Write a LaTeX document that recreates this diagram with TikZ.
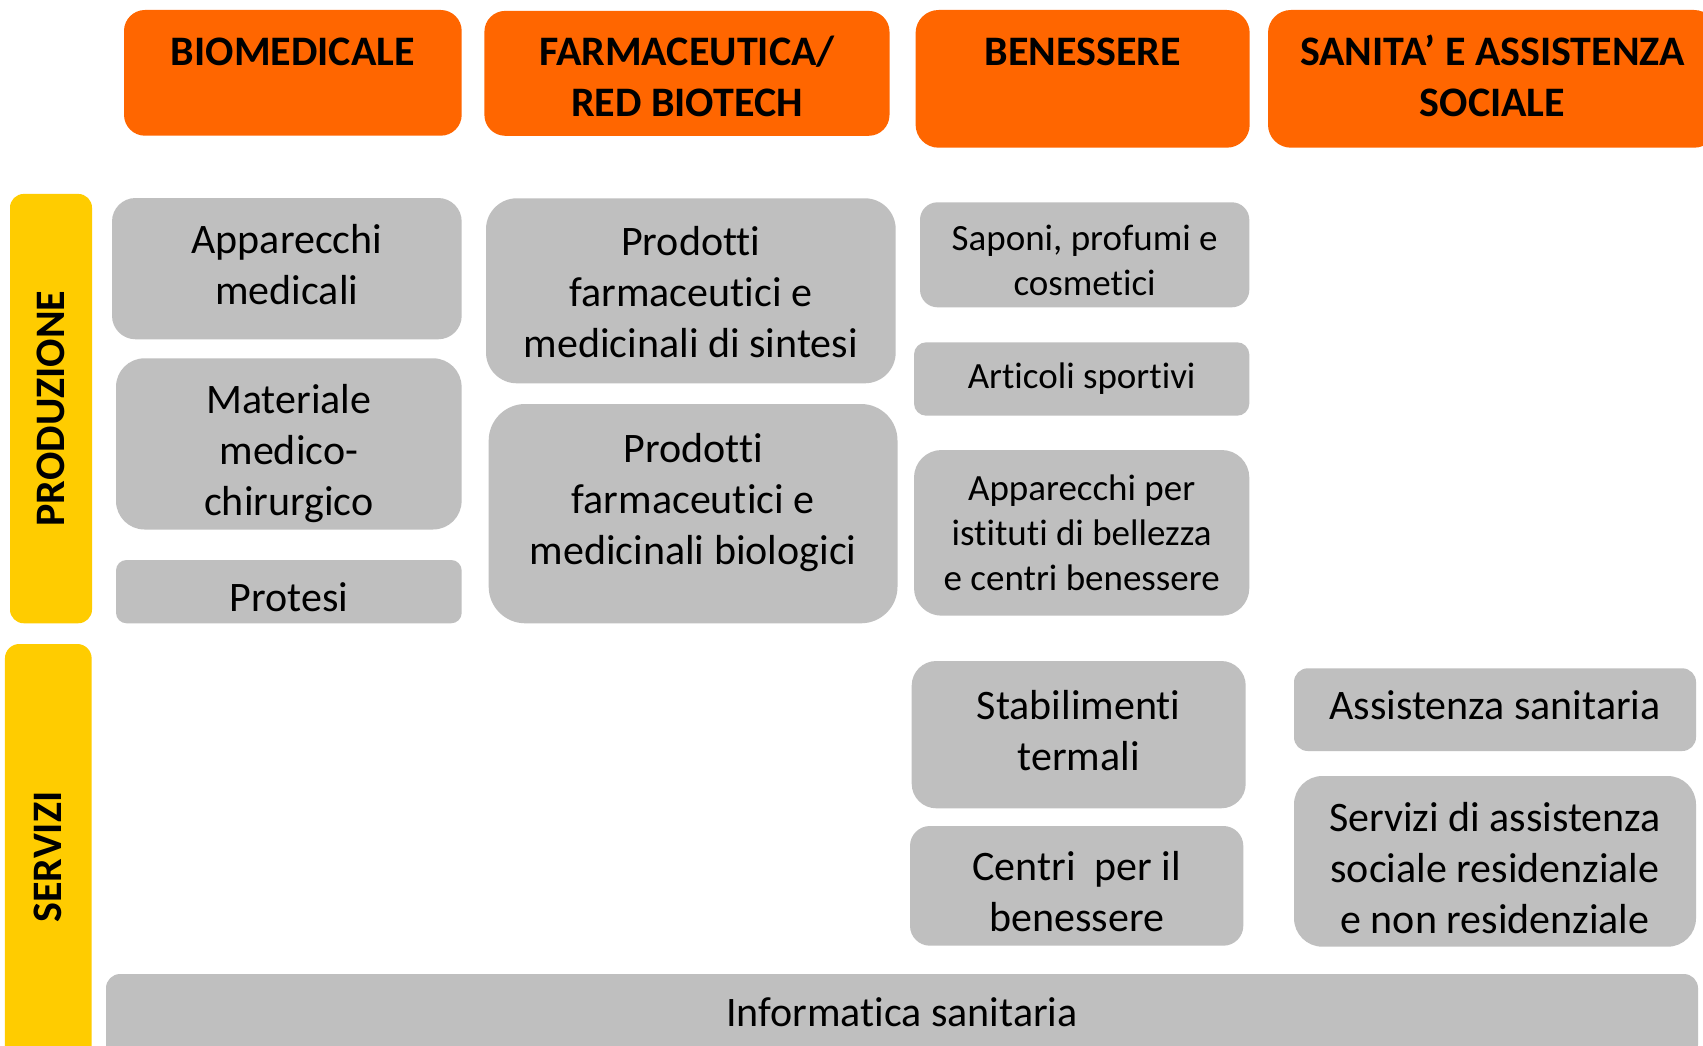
\documentclass[tikz,border=0pt]{standalone}
\usepackage{fontspec}
\setmainfont{Carlito}[Ligatures={NoCommon}]
\definecolor{hdrorange}{HTML}{FF6600}
\definecolor{baryellow}{HTML}{FFCC00}
\definecolor{boxgrey}{HTML}{BFBFBF}
\newcommand\bigtxt{\fontsize{42}{51}\selectfont}
\newcommand\smalltxt{\fontsize{37}{45}\selectfont}
% #1 raise, #2 name, #3 style, #4 x1, #5 y1, #6 x2, #7 y2, #8 text
\newcommand\rbox[8][0]{%
  \pgfmathsetmacro\bxcx{(#4+#6)/2}%
  \pgfmathsetmacro\bxcy{(#5+#7)/2}%
  \pgfmathsetmacro\bxw{#6-#4}%
  \pgfmathsetmacro\bxh{#7-#5}%
  \pgfmathsetmacro\bxr{min(\bxw,\bxh)/6}%
  \node[#3, minimum width=\bxw pt, minimum height=\bxh pt, rounded corners=\bxr pt] (#2) at (\bxcx,\bxcy) {\raisebox{#1pt}[\height][\depth]{\begin{tabular}{@{}c@{}}#8\end{tabular}}};%
}
\tikzset{
  hdrbox/.style={fill=hdrorange, draw=none, inner sep=0pt, font=\bigtxt\bfseries, text=black},
  greybox/.style={fill=boxgrey, draw=none, inner sep=0pt, font=\bigtxt, text=black},
  greysmall/.style={fill=boxgrey, draw=none, inner sep=0pt, font=\smalltxt, text=black},
  sidebar/.style={fill=baryellow, draw=none, inner sep=0pt, rotate=90, font=\bigtxt\bfseries, text=black}
}
\begin{document}
\begin{tikzpicture}[x=1pt,y=-1pt]
\useasboundingbox (0,0) rectangle (1703,1046);
\clip (0,0) rectangle (1703,1046);
\fill[white] (0,0) rectangle (1703,1046);

% column headers
\rbox[18]{biomed}{hdrbox}{124}{10}{461.7}{135.7}{BIOMEDICALE}
\rbox[-7]{farma}{hdrbox}{484.4}{10.9}{889.5}{135.8}{FARMACEUTICA/\\RED BIOTECH}
\rbox[24]{benes}{hdrbox}{915.6}{10}{1249.7}{147.7}{BENESSERE}
\rbox[-2]{sanita}{hdrbox}{1268}{10}{1717}{147.7}{SANITA’ E ASSISTENZA\\SOCIALE}

% row bars
\node[sidebar, minimum width=429.3pt, minimum height=82pt, rounded corners=13.7pt] (prod) at (51,408.6) {PRODUZIONE};
\node[sidebar, minimum width=426pt, minimum height=86.7pt, rounded corners=14.4pt] (serv) at (48.3,857) {SERVIZI};

% biomedicale
\rbox[0]{appmed}{greybox}{112}{198}{461.7}{339.3}{Apparecchi\\medicali}
\rbox[-10]{matmed}{greybox}{116}{358.3}{461.6}{529.5}{Materiale\\medico-\\chirurgico}
\rbox[-10]{protesi}{greybox}{116}{560}{461.7}{623.3}{Protesi}

% farmaceutica
\rbox[-5]{sintesi}{greybox}{486}{198.3}{895.7}{383.3}{Prodotti\\farmaceutici e\\medicinali di sintesi}
\rbox[10]{biolog}{greybox}{488.7}{404}{897.5}{623.3}{Prodotti\\farmaceutici e\\medicinali biologici}

% benessere
\rbox[-9]{saponi}{greysmall}{920}{202.3}{1249.3}{307.3}{Saponi, profumi e\\cosmetici}
\rbox[0]{articoli}{greysmall}{914}{342.3}{1249.3}{415.7}{Articoli sportivi}
\rbox[-4]{appbell}{greysmall}{914}{450}{1249.3}{615.7}{Apparecchi per\\istituti di bellezza\\e centri benessere}
\rbox[0]{termali}{greybox}{911.7}{661}{1245.7}{808.3}{Stabilimenti\\termali}
\rbox[-10]{centri}{greybox}{910}{826}{1243.3}{945.7}{Centri\ \ per il\\benessere}

% sanita
\rbox[0]{assist}{greybox}{1294}{668.3}{1696}{751}{Assistenza sanitaria}
\rbox[-11]{servsoc}{greybox}{1294}{776}{1696}{946.7}{Servizi di assistenza\\sociale residenziale\\e non residenziale}

% informatica
\rbox[0]{informatica}{greybox}{106}{974}{1698}{1059}{Informatica sanitaria}
\end{tikzpicture}
\end{document}
